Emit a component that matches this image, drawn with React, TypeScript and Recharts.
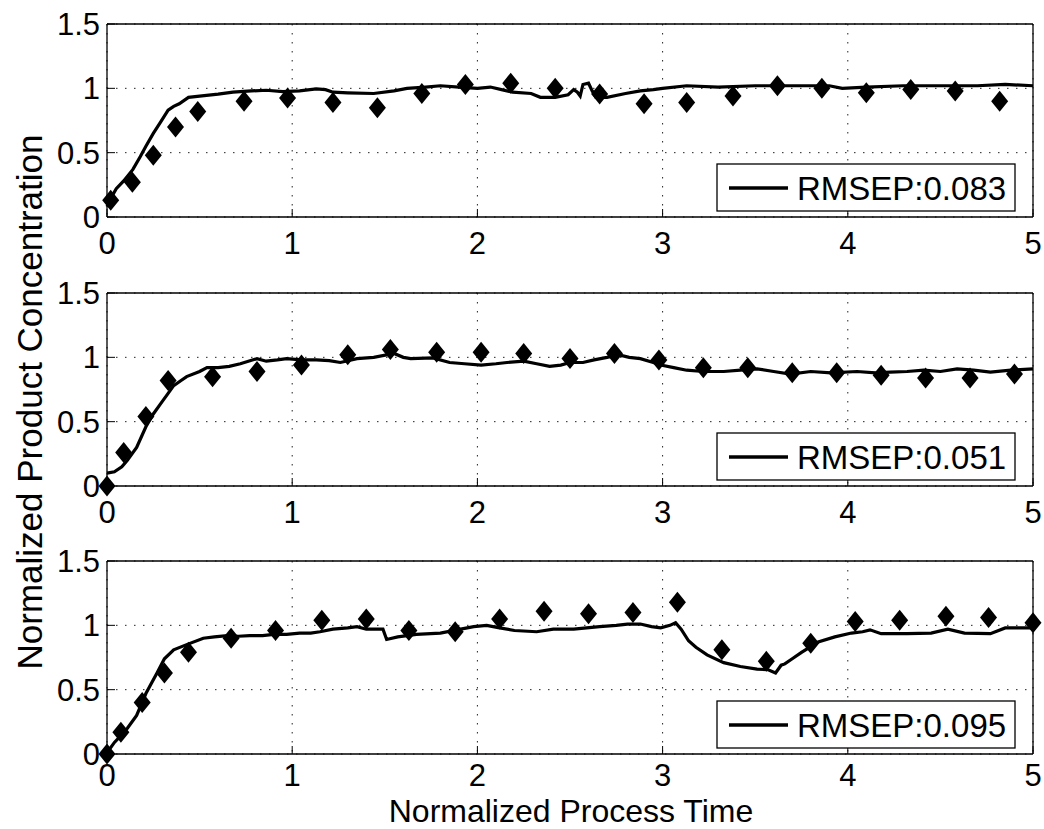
import React from "react";
import {
  ComposedChart,
  Line,
  Scatter,
  XAxis,
  YAxis,
  CartesianGrid,
} from "recharts";

// ---------- data ----------
const xTicks = [0, 1, 2, 3, 4, 5];
const yTicks = [0, 0.5, 1, 1.5];
const legendLabels = ["RMSEP:0.083", "RMSEP:0.051", "RMSEP:0.095"];
const xAxisTitle = "Normalized Process Time";
const yAxisTitle = "Normalized Product Concentration";

// predicted (line) series: [time, concentration]
const predicted1: [number, number][] = [
  [0, 0.08], [0.03, 0.17], [0.05, 0.22], [0.09, 0.28], [0.14, 0.37], [0.18, 0.47],
  [0.21, 0.55], [0.25, 0.65], [0.29, 0.74], [0.33, 0.83], [0.36, 0.86], [0.39, 0.88],
  [0.44, 0.93], [0.5, 0.94], [0.6, 0.955], [0.68, 0.97], [0.78, 0.98], [0.86, 0.985],
  [0.95, 0.975], [1.04, 0.98], [1.13, 0.995], [1.18, 0.99], [1.22, 0.97], [1.3, 0.965],
  [1.44, 0.96], [1.55, 0.98], [1.62, 1.0], [1.72, 1.01], [1.8, 1.02], [1.9, 1.01],
  [2.0, 1.0], [2.07, 1.01], [2.13, 0.99], [2.19, 0.97], [2.29, 0.96], [2.34, 0.93],
  [2.42, 0.93], [2.49, 0.95], [2.52, 0.99], [2.54, 0.97], [2.555, 0.94], [2.57, 1.03],
  [2.6, 1.04], [2.62, 0.98], [2.64, 0.93], [2.7, 0.93], [2.8, 0.96], [2.88, 0.98],
  [2.95, 0.99], [3.0, 1.0], [3.13, 1.02], [3.3, 1.01], [3.5, 1.02], [3.7, 1.02],
  [3.9, 1.02], [3.97, 1.0], [4.1, 1.01], [4.3, 1.02], [4.5, 1.02], [4.7, 1.02],
  [4.85, 1.03], [5.0, 1.02],
];
const measured1: [number, number][] = [
  [0.02, 0.13], [0.137, 0.27], [0.25, 0.48], [0.37, 0.7], [0.49, 0.82], [0.74, 0.9],
  [0.975, 0.925], [1.22, 0.89], [1.46, 0.85], [1.7, 0.96], [1.935, 1.03], [2.18, 1.04],
  [2.42, 1.0], [2.66, 0.955], [2.9, 0.88], [3.13, 0.89], [3.38, 0.94], [3.62, 1.02],
  [3.86, 1.0], [4.1, 0.965], [4.34, 0.99], [4.58, 0.98], [4.82, 0.9],
];

const predicted2: [number, number][] = [
  [0, 0.1], [0.04, 0.11], [0.08, 0.15], [0.11, 0.2], [0.16, 0.3], [0.21, 0.46],
  [0.25, 0.56], [0.29, 0.64], [0.33, 0.72], [0.36, 0.78], [0.4, 0.82], [0.43, 0.85],
  [0.5, 0.89], [0.54, 0.92], [0.6, 0.92], [0.66, 0.93], [0.72, 0.95], [0.81, 0.99],
  [0.86, 0.97], [0.92, 0.98], [0.97, 0.99], [1.05, 0.98], [1.13, 0.98], [1.2, 0.975],
  [1.26, 0.96], [1.35, 0.99], [1.44, 1.0], [1.55, 1.03], [1.6, 1.0], [1.64, 0.99],
  [1.76, 0.995], [1.85, 0.96], [1.93, 0.95], [2.02, 0.94], [2.1, 0.95], [2.16, 0.96],
  [2.25, 0.97], [2.32, 0.95], [2.39, 0.93], [2.45, 0.94], [2.5, 0.96], [2.57, 0.96],
  [2.63, 0.98], [2.7, 1.0], [2.76, 1.02], [2.82, 1.0], [2.88, 0.99], [2.95, 0.96],
  [2.99, 0.94], [3.06, 0.92], [3.13, 0.9], [3.22, 0.89], [3.33, 0.89], [3.42, 0.9],
  [3.51, 0.91], [3.6, 0.89], [3.69, 0.87], [3.8, 0.89], [3.91, 0.88], [4.05, 0.89],
  [4.15, 0.88], [4.23, 0.885], [4.32, 0.89], [4.41, 0.9], [4.5, 0.89], [4.59, 0.91],
  [4.68, 0.9], [4.77, 0.885], [4.88, 0.9], [5.0, 0.91],
];
const measured2: [number, number][] = [
  [0.0, 0.0], [0.09, 0.26], [0.21, 0.54], [0.33, 0.82], [0.57, 0.85], [0.81, 0.89],
  [1.05, 0.94], [1.3, 1.02], [1.53, 1.06], [1.78, 1.04], [2.02, 1.04], [2.25, 1.03],
  [2.5, 0.99], [2.74, 1.03], [2.98, 0.98], [3.22, 0.92], [3.46, 0.92], [3.7, 0.88],
  [3.94, 0.88], [4.18, 0.86], [4.42, 0.84], [4.66, 0.84], [4.9, 0.87],
];

const predicted3: [number, number][] = [
  [0, 0.01], [0.04, 0.09], [0.08, 0.15], [0.11, 0.2], [0.16, 0.3], [0.21, 0.47],
  [0.27, 0.63], [0.31, 0.74], [0.36, 0.81], [0.43, 0.85], [0.52, 0.9], [0.58, 0.91],
  [0.65, 0.92], [0.71, 0.915], [0.77, 0.92], [0.84, 0.92], [0.9, 0.93], [0.97, 0.93],
  [1.04, 0.94], [1.1, 0.94], [1.15, 0.95], [1.22, 0.97], [1.3, 0.98], [1.35, 0.99],
  [1.4, 0.97], [1.49, 0.97], [1.51, 0.89], [1.57, 0.91], [1.67, 0.93], [1.8, 0.94],
  [1.91, 0.97], [1.98, 0.99], [2.05, 1.0], [2.12, 0.98], [2.2, 0.96], [2.32, 0.95],
  [2.41, 0.97], [2.52, 0.97], [2.66, 0.99], [2.75, 1.0], [2.81, 1.01], [2.88, 1.01],
  [2.94, 0.99], [2.99, 0.98], [3.04, 1.0], [3.07, 1.02], [3.1, 0.97], [3.14, 0.88],
  [3.18, 0.83], [3.24, 0.77], [3.33, 0.71], [3.42, 0.68], [3.51, 0.66], [3.57, 0.655],
  [3.61, 0.63], [3.64, 0.69], [3.66, 0.7], [3.7, 0.74], [3.75, 0.79], [3.84, 0.87],
  [3.93, 0.91], [4.02, 0.94], [4.08, 0.95], [4.12, 0.965], [4.18, 0.935], [4.32, 0.935],
  [4.45, 0.94], [4.54, 0.97], [4.63, 0.94], [4.77, 0.935], [4.85, 0.98], [5.0, 0.98],
];
const measured3: [number, number][] = [
  [0.0, 0.0], [0.075, 0.17], [0.19, 0.4], [0.31, 0.63], [0.44, 0.79], [0.67, 0.9],
  [0.91, 0.96], [1.16, 1.04], [1.4, 1.05], [1.63, 0.96], [1.88, 0.95], [2.12, 1.05],
  [2.36, 1.11], [2.6, 1.09], [2.84, 1.1], [3.08, 1.18], [3.32, 0.81], [3.56, 0.72],
  [3.8, 0.86], [4.04, 1.03], [4.28, 1.04], [4.53, 1.07], [4.76, 1.06], [5.0, 1.02],
];

const panels = [
  { predicted: predicted1, measured: measured1, label: legendLabels[0] },
  { predicted: predicted2, measured: measured2, label: legendLabels[1] },
  { predicted: predicted3, measured: measured3, label: legendLabels[2] },
];

// ---------- layout ----------
const W = 1044;
const H = 829;
const PANEL_H = 270;
const PANEL_TOPS = [0, 269, 537];
const TICK_MARGINS = [23, 23, 18];
const PLOT_TOP = 24;
const PLOT_LEFT = 107;
const PLOT_RIGHT = 1033;
const FONT = "'Liberation Sans', Arial, Helvetica, sans-serif";

const toPoints = (arr: [number, number][]) => arr.map(([x, y]) => ({ x, y }));

const Diamond = (props: any) => {
  const { cx, cy } = props;
  if (cx == null || cy == null) return null;
  const hw = 8.5;
  const hh = 10.5;
  return (
    <path
      d={`M${cx},${cy - hh} L${cx + hw},${cy} L${cx},${cy + hh} L${cx - hw},${cy} Z`}
      fill="#000"
      stroke="none"
    />
  );
};

const tickStyle = { fill: "#000", fontSize: 31, fontFamily: FONT };

function Panel({
  predicted,
  measured,
  xTickMargin,
}: {
  predicted: [number, number][];
  measured: [number, number][];
  xTickMargin: number;
}) {
  return (
    <ComposedChart
      width={W}
      height={PANEL_H}
      margin={{ top: PLOT_TOP - 1, right: W - PLOT_RIGHT - 1, bottom: 0, left: 0 }}
    >
      <CartesianGrid
        xAxisId="bottom"
        yAxisId="left"
        stroke="#222"
        strokeDasharray="1.5 7.5"
        strokeWidth={1}
      />
      <XAxis
        xAxisId="bottom"
        dataKey="x"
        type="number"
        domain={[0, 5]}
        ticks={xTicks}
        interval={0}
        height={PANEL_H - PLOT_TOP - 193}
        stroke="#000"
        axisLine={{ stroke: "#000", strokeWidth: 1.3 }}
        tickLine={{ stroke: "#000" }}
        tickSize={-8}
        tickMargin={xTickMargin}
        tick={tickStyle}
      />
      <XAxis
        xAxisId="top"
        orientation="top"
        dataKey="x"
        type="number"
        domain={[0, 5]}
        ticks={xTicks}
        interval={0}
        height={1}
        axisLine={{ stroke: "#000", strokeWidth: 1.3 }}
        tickLine={{ stroke: "#000" }}
        tickSize={-8}
        tick={false}
      />
      <YAxis
        yAxisId="left"
        dataKey="y"
        type="number"
        domain={[0, 1.5]}
        ticks={yTicks}
        interval={0}
        width={PLOT_LEFT}
        axisLine={{ stroke: "#000", strokeWidth: 1.3 }}
        tickLine={{ stroke: "#000" }}
        tickSize={-8}
        tickMargin={15}
        tick={tickStyle}
      />
      <YAxis
        yAxisId="right"
        orientation="right"
        dataKey="y"
        type="number"
        domain={[0, 1.5]}
        ticks={yTicks}
        interval={0}
        width={1}
        axisLine={{ stroke: "#000", strokeWidth: 1.3 }}
        tickLine={{ stroke: "#000" }}
        tickSize={-8}
        tick={false}
      />
      <Line
        xAxisId="bottom"
        yAxisId="left"
        data={toPoints(predicted)}
        dataKey="y"
        type="linear"
        stroke="#000"
        strokeWidth={3.2}
        dot={false}
        activeDot={false}
        isAnimationActive={false}
      />
      <Scatter
        xAxisId="bottom"
        yAxisId="left"
        data={toPoints(measured)}
        dataKey="y"
        shape={Diamond}
        isAnimationActive={false}
      />
    </ComposedChart>
  );
}

export default function App() {
  return (
    <div
      style={{
        position: "absolute",
        left: 0,
        top: 0,
        width: W,
        height: H,
        background: "#fff",
        overflow: "hidden",
        fontFamily: FONT,
      }}
    >
      {panels.map((p, i) => (
        <div key={i} style={{ position: "absolute", left: 0, top: PANEL_TOPS[i], width: W, height: PANEL_H }}>
          <Panel predicted={p.predicted} measured={p.measured} xTickMargin={TICK_MARGINS[i]} />
        </div>
      ))}
      <svg
        width={W}
        height={H}
        style={{ position: "absolute", left: 0, top: 0, pointerEvents: "none" }}
      >
        {panels.map((p, i) => {
          const boxTop = PANEL_TOPS[i] + PLOT_TOP + 140;
          return (
            <g key={i}>
              <rect x={717} y={boxTop} width={298} height={47} fill="#fff" stroke="#000" strokeWidth={1.3} />
              <line x1={729} x2={788} y1={boxTop + 24} y2={boxTop + 24} stroke="#000" strokeWidth={3.5} />
              <text x={797} y={boxTop + 36} fontSize={33} fontFamily={FONT} fill="#000">
                {p.label}
              </text>
            </g>
          );
        })}
        <text x={571} y={822} fontSize={32} fontFamily={FONT} textAnchor="middle" fill="#000">
          {xAxisTitle}
        </text>
        <text
          transform="translate(42,402) rotate(-90)"
          fontSize={35}
          fontFamily={FONT}
          textAnchor="middle"
          fill="#000"
        >
          {yAxisTitle}
        </text>
      </svg>
    </div>
  );
}
